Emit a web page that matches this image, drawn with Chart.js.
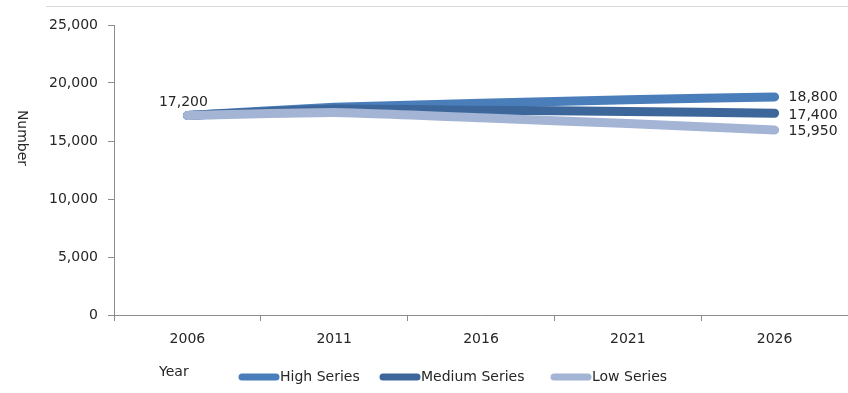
<!DOCTYPE html>
<html>
<head>
<meta charset="utf-8">
<script src="https://cdn.jsdelivr.net/npm/chart.js@4/dist/chart.umd.min.js"></script>
<style>
  html, body { margin: 0; padding: 0; background: #fff; }
  #wrap { width: 848px; height: 393px; position: relative; }
</style>
</head>
<body>
<div id="wrap"><canvas id="c" width="848" height="393"></canvas></div>
<script>
// Population projections by series
const years = ['2006', '2011', '2016', '2021', '2026'];
const highSeries = [17200, 17900, 18250, 18550, 18800];
const mediumSeries = [17200, 17750, 17650, 17550, 17400];
const lowSeries = [17200, 17450, 17000, 16500, 15950];
const yTicks = [0, 5000, 10000, 15000, 20000, 25000];

const FONT = 'DejaVu Sans, sans-serif';
const TEXT = '#262626';
const colors = { high: '#4a7ebb', medium: '#3d679a', low: '#a3b4d4' };

const fmt = v => v.toLocaleString('en-US');

// Value labels at the first and last points, plus frame text and legend
const decorations = {
  id: 'decorations',
  afterDatasetsDraw(chart) {
    const ctx = chart.ctx;
    ctx.save();
    ctx.font = '14px ' + FONT;
    ctx.fillStyle = TEXT;

    // starting value, shared by all series
    const first = chart.getDatasetMeta(2).data[0];
    ctx.textAlign = 'center';
    ctx.textBaseline = 'middle';
    ctx.fillText(fmt(lowSeries[0]), first.x - 4, first.y - 13);

    // end values
    const ends = [
      { idx: 0, v: highSeries[highSeries.length - 1], dy: 0 },
      { idx: 1, v: mediumSeries[mediumSeries.length - 1], dy: 2 },
      { idx: 2, v: lowSeries[lowSeries.length - 1], dy: 1 }
    ];
    ctx.textAlign = 'left';
    ends.forEach(e => {
      const pts = chart.getDatasetMeta(e.idx).data;
      const p = pts[pts.length - 1];
      ctx.fillText(fmt(e.v), p.x + 14, p.y + e.dy);
    });

    // axis title, reading downwards
    ctx.save();
    ctx.translate(22, 138);
    ctx.rotate(Math.PI / 2);
    ctx.textAlign = 'center';
    ctx.fillText('Number', 0, 0);
    ctx.restore();

    // x axis title
    ctx.textAlign = 'left';
    ctx.fillText('Year', 159, 372);

    // legend
    const items = [
      { label: 'High Series', color: colors.high, x: 242 },
      { label: 'Medium Series', color: colors.medium, x: 383 },
      { label: 'Low Series', color: colors.low, x: 554 }
    ];
    ctx.lineCap = 'round';
    ctx.lineWidth = 7;
    items.forEach(it => {
      ctx.strokeStyle = it.color;
      ctx.beginPath();
      ctx.moveTo(it.x, 377);
      ctx.lineTo(it.x + 34, 377);
      ctx.stroke();
      ctx.fillStyle = TEXT;
      ctx.fillText(it.label, it.x + 38, 377);
    });

    // top frame line
    ctx.strokeStyle = '#d9d9d9';
    ctx.lineWidth = 1;
    ctx.lineCap = 'butt';
    ctx.beginPath();
    ctx.moveTo(46, 6.5);
    ctx.lineTo(848, 6.5);
    ctx.stroke();
    ctx.restore();
  }
};

const lineStyle = {
  borderWidth: 9,
  borderCapStyle: 'round',
  borderJoinStyle: 'round',
  pointRadius: 0,
  pointHoverRadius: 0,
  tension: 0.15,
  fill: false
};

new Chart(document.getElementById('c'), {
  type: 'line',
  data: {
    labels: years,
    datasets: [
      Object.assign({ label: 'High Series', data: highSeries, borderColor: colors.high, backgroundColor: colors.high, order: 2 }, lineStyle),
      Object.assign({ label: 'Medium Series', data: mediumSeries, borderColor: colors.medium, backgroundColor: colors.medium, order: 1 }, lineStyle),
      Object.assign({ label: 'Low Series', data: lowSeries, borderColor: colors.low, backgroundColor: colors.low, order: 0 }, lineStyle)
    ]
  },
  options: {
    responsive: false,
    animation: false,
    devicePixelRatio: 1,
    layout: { padding: { top: 25, right: 0, bottom: 0, left: 0 } },
    plugins: {
      legend: { display: false },
      tooltip: { enabled: false }
    },
    scales: {
      x: {
        type: 'category',
        offset: true,
        grid: { offset: true, drawOnChartArea: false, tickLength: 6, color: '#8c8c8c' },
        border: { color: '#8c8c8c' },
        ticks: { font: { family: FONT, size: 14 }, color: TEXT, padding: 10, maxRotation: 0 },
        afterFit(scale) { scale.height = 78; }
      },
      y: {
        min: 0,
        max: 25000,
        afterBuildTicks(scale) { scale.ticks = yTicks.map(v => ({ value: v })); },
        grid: { drawOnChartArea: false, tickLength: 6, color: '#8c8c8c' },
        border: { color: '#8c8c8c' },
        ticks: { font: { family: FONT, size: 14 }, color: TEXT, padding: 10, callback: v => fmt(v) },
        afterFit(scale) { scale.width = 114; }
      }
    }
  },
  plugins: [decorations]
});
</script>
</body>
</html>
